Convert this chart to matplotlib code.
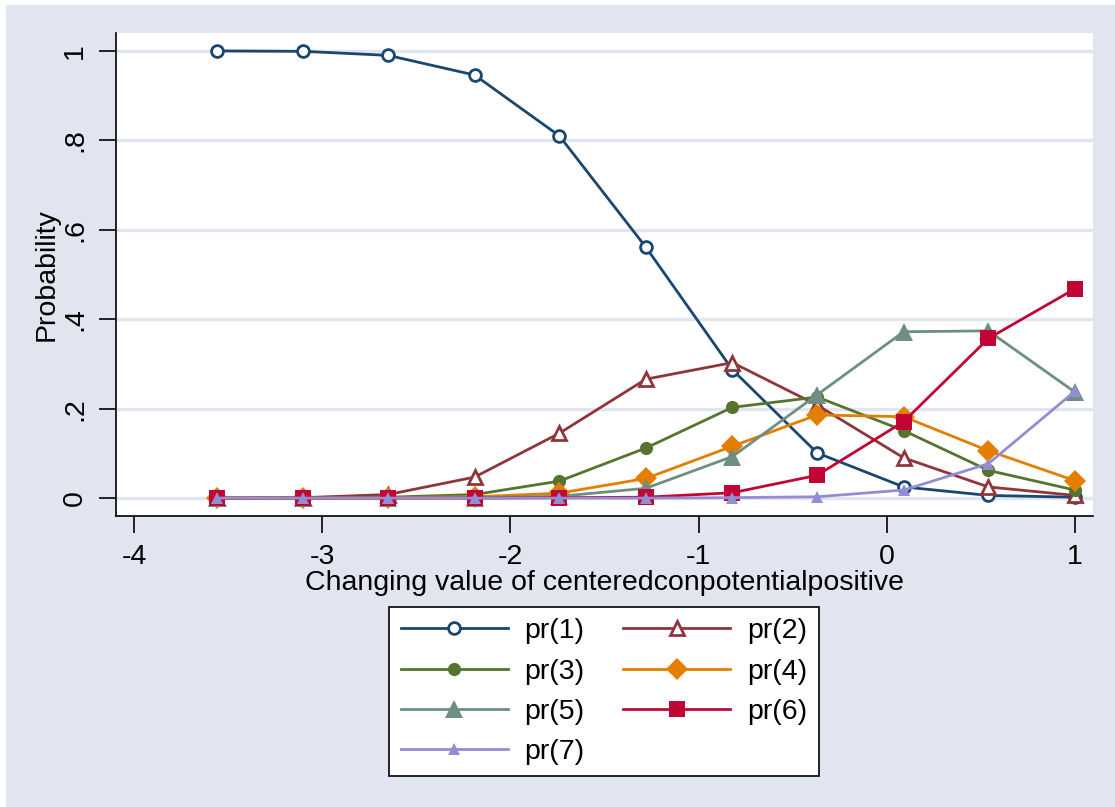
import numpy as np
import matplotlib
matplotlib.use('Agg')
import matplotlib.pyplot as plt
from matplotlib.patches import Rectangle

plt.rcParams['font.family'] = ['Liberation Sans', 'DejaVu Sans']

# values
xvals = [-3.56, -3.10, -2.65, -2.19, -1.74, -1.28, -0.82, -0.37, 0.09, 0.54, 1.00]
pr1 = [1.000, 0.999, 0.990, 0.946, 0.810, 0.561, 0.287, 0.101, 0.025, 0.006, 0.002]
pr2 = [0.000, 0.001, 0.008, 0.047, 0.145, 0.266, 0.303, 0.208, 0.090, 0.025, 0.006]
pr3 = [0.000, 0.000, 0.002, 0.008, 0.038, 0.112, 0.203, 0.226, 0.151, 0.062, 0.018]
pr4 = [0.000, 0.000, 0.001, 0.003, 0.011, 0.044, 0.116, 0.186, 0.182, 0.106, 0.039]
pr5 = [0.000, 0.000, 0.000, 0.001, 0.004, 0.022, 0.093, 0.231, 0.372, 0.374, 0.237]
pr6 = [0.000, 0.000, 0.000, 0.000, 0.001, 0.002, 0.012, 0.051, 0.171, 0.357, 0.468]
pr7 = [0.000, 0.000, 0.000, 0.000, 0.000, 0.000, 0.001, 0.003, 0.018, 0.077, 0.239]

labels = ['pr(1)', 'pr(2)', 'pr(3)', 'pr(4)', 'pr(5)', 'pr(6)', 'pr(7)']
xticks = [-4, -3, -2, -1, 0, 1]
yticks = [0, 0.2, 0.4, 0.6, 0.8, 1]
yticklabels = ['0', '.2', '.4', '.6', '.8', '1']

# stata s2color
colors = ['#1A476F', '#90353B', '#55752F', '#E37E00', '#6E8E84', '#C10534', '#938DD2']
bg = '#E1E5F0'
fs = 20.5

fig = plt.figure(figsize=(11.15, 8.07), dpi=100, facecolor='white')
fig.patches.append(Rectangle((6/1115, 0), 1, 1 - 5/807, transform=fig.transFigure,
                             facecolor=bg, edgecolor='none', zorder=-10))
ax = fig.add_axes([116/1115, 1 - 516/807, (1093-116)/1115, (516-33)/807])
ax.set_facecolor('white')

series = [pr1, pr2, pr3, pr4, pr5, pr6, pr7]
styles = [
    dict(marker='o', ms=8.5, mfc='white', mew=2),
    dict(marker='^', ms=10.5, mfc='white', mew=2),
    dict(marker='o', ms=9.5, mew=0),
    dict(marker='D', ms=11.5, mew=0),
    dict(marker='^', ms=12.5, mew=0),
    dict(marker='s', ms=11, mew=0),
    dict(marker='^', ms=9, mew=0),
]
handles = []
for i, (y, st) in enumerate(zip(series, styles)):
    h, = ax.plot(xvals, y, color=colors[i], mec=colors[i], lw=2.0, label=labels[i], zorder=3+i, **st)
    handles.append(h)

ax.set_xlim(-4.096, 1.096)
ax.set_ylim(-0.04, 1.04)
ax.set_xticks(xticks)
ax.set_xticklabels([str(t) for t in xticks])
ax.set_yticks(yticks)
ax.set_yticklabels(yticklabels, rotation=90, va='center')
for t in yticks:
    ax.axhline(t, color=bg, lw=2.4, zorder=1)

for s in ['top', 'right']:
    ax.spines[s].set_visible(False)
for s in ['left', 'bottom']:
    ax.spines[s].set_color('black')
    ax.spines[s].set_linewidth(1.2)
ax.tick_params(direction='out', length=12, width=1.2, labelsize=fs, pad=8)

ax.set_xlabel('Changing value of centeredconpotentialpositive', fontsize=fs, labelpad=0)
ax.set_ylabel('Probability', fontsize=fs, labelpad=2)

order = [0, 2, 4, 6, 1, 3, 5]
leg = fig.legend([handles[i] for i in order], [labels[i] for i in order],
                 ncol=2, loc='upper center', bbox_to_anchor=(604/1115, 1 - 607/807),
                 fontsize=fs, frameon=True, fancybox=False, edgecolor='black',
                 framealpha=1, handlelength=3.75, handletextpad=0.6, columnspacing=1.35,
                 labelspacing=0.5, borderpad=0.4, borderaxespad=0)
leg.get_frame().set_linewidth(1.2)

fig.savefig('out.png', dpi=100, facecolor=fig.get_facecolor())
